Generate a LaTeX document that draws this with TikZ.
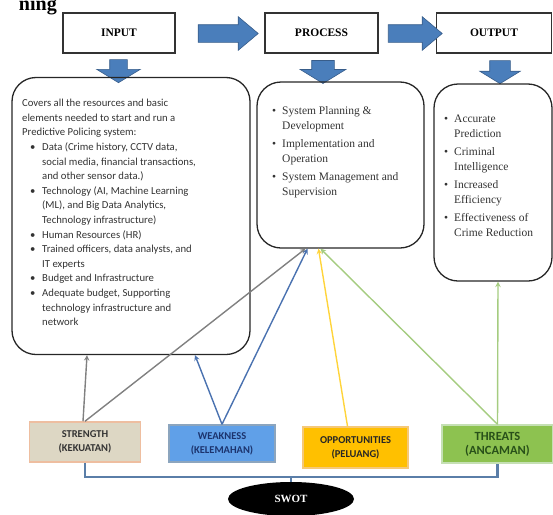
\documentclass[tikz,border=0pt]{standalone}
\usepackage{fontspec}
\setmainfont{Liberation Serif}
\newfontfamily\calfont{Carlito}
\usepackage{xcolor}
\usepackage{tikz}
\usetikzlibrary{shapes.geometric,shapes.arrows,arrows.meta}
\definecolor{arrowblue}{RGB}{74,126,187}
\definecolor{arrowedge}{RGB}{56,93,138}
\definecolor{strengthfill}{RGB}{221,215,196}
\definecolor{strengthedge}{RGB}{238,190,160}
\definecolor{weakfill}{RGB}{96,160,232}
\definecolor{weakedge}{RGB}{140,165,190}
\definecolor{weaktext}{RGB}{28,52,110}
\definecolor{oppfill}{RGB}{255,192,0}
\definecolor{oppedge}{RGB}{245,200,120}
\definecolor{threatfill}{RGB}{141,194,80}
\definecolor{threatedge}{RGB}{197,224,180}
\definecolor{threattext}{RGB}{40,80,25}
\definecolor{linegray}{RGB}{128,128,128}
\definecolor{lineblue}{RGB}{74,114,176}
\definecolor{lineyellow}{RGB}{255,212,59}
\definecolor{linegreen}{RGB}{165,204,128}
\definecolor{bracketblue}{RGB}{90,126,168}
\newcommand{\inbul}[1]{\hspace*{8pt}\makebox[12pt][l]{\textbullet}#1}
\newcommand{\incont}[1]{\hspace*{20pt}#1}
\newcommand{\pbul}[1]{\makebox[10pt][l]{\textbullet}#1}
\newcommand{\pcont}[1]{\hspace*{10pt}#1}

\begin{document}
\begin{tikzpicture}[x=1pt,y=-1pt,
  headbox/.style={rectangle,draw=black!80,line width=1.2pt,minimum width=112pt,minimum height=40pt,font=\bfseries\fontsize{11.5}{12}\selectfont},
  roundbox/.style={rectangle,draw=black!85,line width=1.3pt,rounded corners=24pt},
  rightarrow/.style={single arrow,draw=arrowedge,fill=arrowblue,line width=0.6pt,minimum height=60pt,inner xsep=0pt,inner ysep=8.5pt,single arrow head extend=8pt,single arrow tip angle=80},
  downarrow/.style={single arrow,draw=arrowedge,fill=arrowblue,line width=0.6pt,minimum height=23pt,inner xsep=0pt,inner ysep=8.5pt,single arrow head extend=13pt,single arrow tip angle=117,rotate=-90},
  swotbox/.style={rectangle,line width=1.5pt,align=center,font=\calfont\bfseries\fontsize{10.5}{14}\selectfont},
  link/.style={line width=1.4pt,-stealth}]
\useasboundingbox (0,0) rectangle (553,514);
\node[font=\bfseries\fontsize{20}{20}\selectfont,inner sep=0pt,anchor=base east] (heading) at (57,10) {ning};
% top row
\node[headbox] (inputhead) at (119,33) {INPUT};
\node[headbox,minimum width=113pt] (processhead) at (321.5,33) {PROCESS};
\node[headbox,minimum width=115pt] (outputhead) at (494,33) {OUTPUT};
\node[rightarrow] (arrowone) at (223,33.5) {};
\node[rightarrow,minimum height=54pt] (arrowtwo) at (410,33.5) {};
\node[downarrow] (inputdown) at (118.5,68.5) {};
\node[downarrow,inner ysep=11pt,single arrow head extend=11.5pt] (processdown) at (323,68.5) {};
\node[downarrow,inner ysep=10pt,single arrow head extend=10pt] (outputdown) at (500,69) {};
% content boxes
\node[roundbox,minimum width=238pt,minimum height=277pt] (inputbox) at (131,216) {};
\node[roundbox,minimum width=167pt,minimum height=166pt] (processbox) at (340.5,165) {};
\node[roundbox,minimum width=118pt,minimum height=197pt] (outputbox) at (493,182.5) {};
\node[anchor=north west,inner sep=0pt,align=left,text=black!80,font=\calfont\fontsize{10.7}{14.6}\selectfont] (inputtext) at (22,99) {Covers all the resources and basic\\
elements needed to start and run a\\
Predictive Policing system:\\
\inbul{Data (Crime history, CCTV data,}\\
\incont{social media, financial transactions,}\\
\incont{and other sensor data.)}\\
\inbul{Technology (AI, Machine Learning}\\
\incont{(ML), and Big Data Analytics,}\\
\incont{Technology infrastructure)}\\
\inbul{Human Resources (HR)}\\
\inbul{Trained officers, data analysts, and}\\
\incont{IT experts}\\
\inbul{Budget and Infrastructure}\\
\inbul{Adequate budget, Supporting}\\
\incont{technology infrastructure and}\\
\incont{network}};
\node[anchor=north west,inner sep=0pt,align=left,text=black!80,font=\fontsize{11.5}{15}\selectfont] (processtext) at (272,106) {\pbul{System Planning \&}\\
\pcont{Development}\\[3pt]
\pbul{Implementation and}\\
\pcont{Operation}\\[3pt]
\pbul{System Management and}\\
\pcont{Supervision}};
\node[anchor=north west,inner sep=0pt,align=left,text=black!80,font=\fontsize{11.5}{15}\selectfont] (outputtext) at (444,115) {\pbul{Accurate}\\
\pcont{Prediction}\\[3pt]
\pbul{Criminal}\\
\pcont{Intelligence}\\[3pt]
\pbul{Increased}\\
\pcont{Efficiency}\\[3pt]
\pbul{Effectiveness of}\\
\pcont{Crime Reduction}};
% swot row
\node[swotbox,draw=strengthedge,fill=strengthfill,text=black!80,minimum width=111pt,minimum height=40pt] (strength) at (85,442) {STRENGTH\\(KEKUATAN)};
\node[swotbox,draw=weakedge,fill=weakfill,text=weaktext,minimum width=106pt,minimum height=37pt] (weakness) at (222,443.5) {WEAKNESS\\(KELEMAHAN)};
\node[swotbox,draw=oppedge,fill=oppfill,text=black!85,minimum width=105pt,minimum height=41pt] (opportunities) at (355.5,447.5) {OPPORTUNITIES\\(PELUANG)};
\node[swotbox,draw=threatedge,fill=threatfill,text=threattext,minimum width=111pt,minimum height=38pt,font=\calfont\bfseries\fontsize{12.5}{14}\selectfont] (threats) at (497.5,444) {THREATS\\(ANCAMAN)};
\node[ellipse,fill=black,minimum width=126pt,minimum height=34pt,text=white,font=\bfseries\fontsize{11}{12}\selectfont] (swot) at (291,499) {SWOT};
\draw[bracketblue,line width=2.2pt] (strength.south) -- ++(0,14) -| (threats.south);
\draw[bracketblue,line width=2.2pt] (swot.north) -- ++(0,-6);
% links
\draw[link,linegray] ([xshift=-2pt]strength.north) -- ([xshift=-44pt]inputbox.south);
\draw[link,linegray] (strength.north) -- ([xshift=-35pt]processbox.south);
\draw[link,lineblue] (weakness.north) -- ([xshift=64pt]inputbox.south);
\draw[link,lineblue] (weakness.north) -- ([xshift=-33pt]processbox.south);
\draw[link,lineyellow] ([xshift=-8pt]opportunities.north) -- ([xshift=-22pt]processbox.south);
\draw[link,linegreen] (threats.north) -- ([xshift=-20pt]processbox.south);
\draw[link,linegreen] (threats.north) -- ([xshift=5pt]outputbox.south);
\end{tikzpicture}
\end{document}
